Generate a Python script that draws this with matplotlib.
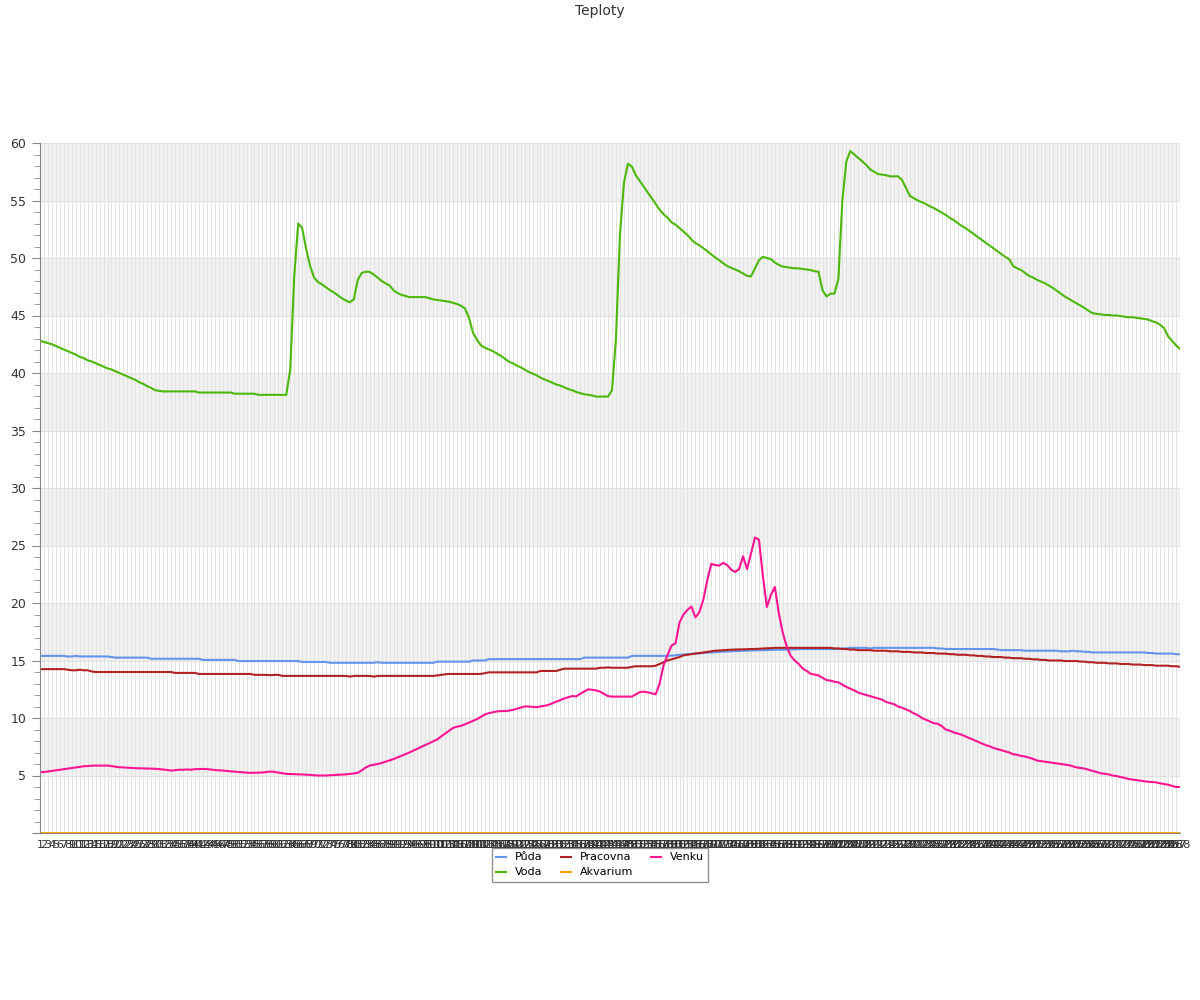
import numpy as np
import matplotlib.pyplot as plt
from matplotlib.ticker import MultipleLocator

# measurements, one sample every 5 min (288 per day)
labels = [str(i) for i in range(1, 289)]

puda = [
    15.4, 15.4, 15.4, 15.4, 15.4, 15.4, 15.4, 15.35, 15.35, 15.4, 15.35, 15.35,
    15.35, 15.35, 15.35, 15.35, 15.35, 15.35, 15.3, 15.25, 15.25, 15.25, 15.25, 15.25,
    15.25, 15.25, 15.25, 15.25, 15.15, 15.15, 15.15, 15.15, 15.15, 15.15, 15.15, 15.15,
    15.15, 15.15, 15.15, 15.15, 15.15, 15.05, 15.05, 15.05, 15.05, 15.05, 15.05, 15.05,
    15.05, 15.05, 14.95, 14.95, 14.95, 14.95, 14.95, 14.95, 14.95, 14.95, 14.95, 14.95,
    14.95, 14.95, 14.95, 14.95, 14.95, 14.95, 14.87, 14.87, 14.87, 14.87, 14.87, 14.87,
    14.87, 14.8, 14.8, 14.8, 14.8, 14.8, 14.8, 14.8, 14.8, 14.8, 14.8, 14.8,
    14.8, 14.85, 14.8, 14.8, 14.8, 14.8, 14.8, 14.8, 14.8, 14.8, 14.8, 14.8,
    14.8, 14.8, 14.8, 14.8, 14.9, 14.9, 14.9, 14.9, 14.9, 14.9, 14.9, 14.9,
    14.9, 15.0, 15.0, 15.0, 15.0, 15.12, 15.12, 15.12, 15.12, 15.12, 15.12, 15.12,
    15.12, 15.12, 15.12, 15.12, 15.12, 15.12, 15.12, 15.12, 15.12, 15.12, 15.12, 15.12,
    15.12, 15.12, 15.12, 15.12, 15.12, 15.25, 15.25, 15.25, 15.25, 15.25, 15.25, 15.25,
    15.25, 15.25, 15.25, 15.25, 15.25, 15.4, 15.4, 15.4, 15.4, 15.4, 15.4, 15.4,
    15.4, 15.4, 15.4, 15.42, 15.45, 15.5, 15.52, 15.55, 15.58, 15.6, 15.62, 15.65,
    15.68, 15.7, 15.72, 15.75, 15.77, 15.78, 15.8, 15.82, 15.83, 15.85, 15.86, 15.87,
    15.88, 15.89, 15.9, 15.91, 15.92, 15.93, 15.94, 15.94, 15.95, 15.96, 15.97, 15.98,
    16.0, 16.0, 16.0, 16.0, 16.0, 16.0, 16.0, 16.0, 16.0, 16.0, 16.05, 16.05,
    16.1, 16.1, 16.1, 16.1, 16.1, 16.05, 16.1, 16.1, 16.1, 16.1, 16.1, 16.1,
    16.1, 16.1, 16.1, 16.1, 16.1, 16.1, 16.1, 16.1, 16.1, 16.1, 16.05, 16.05,
    16.0, 16.0, 16.0, 16.0, 16.0, 16.0, 16.0, 16.0, 16.0, 16.0, 16.0, 16.0,
    16.0, 15.95, 15.9, 15.9, 15.9, 15.9, 15.9, 15.9, 15.85, 15.85, 15.85, 15.85,
    15.85, 15.85, 15.85, 15.85, 15.85, 15.8, 15.8, 15.8, 15.85, 15.8, 15.8, 15.75,
    15.75, 15.7, 15.7, 15.7, 15.7, 15.7, 15.7, 15.7, 15.7, 15.7, 15.7, 15.7,
    15.7, 15.7, 15.7, 15.65, 15.65, 15.6, 15.6, 15.6, 15.6, 15.6, 15.55, 15.55,
]

voda = [
    42.8, 42.7, 42.6, 42.5, 42.35, 42.2, 42.05, 41.9, 41.75, 41.6, 41.4, 41.3,
    41.1, 41.0, 40.85, 40.7, 40.55, 40.4, 40.3, 40.15, 40.0, 39.85, 39.7, 39.55,
    39.4, 39.2, 39.05, 38.85, 38.7, 38.5, 38.45, 38.4, 38.4, 38.4, 38.4, 38.4,
    38.4, 38.4, 38.4, 38.4, 38.3, 38.3, 38.3, 38.3, 38.3, 38.3, 38.3, 38.3,
    38.3, 38.2, 38.2, 38.2, 38.2, 38.2, 38.2, 38.1, 38.1, 38.1, 38.1, 38.1,
    38.1, 38.1, 38.1, 40.3, 48.4, 53.0, 52.6, 50.8, 49.3, 48.3, 47.9, 47.7,
    47.45, 47.2, 47.0, 46.75, 46.5, 46.3, 46.15, 46.4, 48.1, 48.7, 48.8, 48.8,
    48.55, 48.3, 48.0, 47.8, 47.6, 47.2, 46.95, 46.8, 46.7, 46.6, 46.6, 46.6,
    46.6, 46.6, 46.5, 46.4, 46.35, 46.3, 46.25, 46.2, 46.1, 46.0, 45.85, 45.6,
    44.8, 43.5, 42.9, 42.4, 42.2, 42.05, 41.9, 41.7, 41.5, 41.25, 41.0, 40.85,
    40.65, 40.5, 40.3, 40.1, 39.95, 39.8, 39.6, 39.45, 39.3, 39.15, 39.0, 38.9,
    38.75, 38.6, 38.5, 38.35, 38.25, 38.15, 38.1, 38.05, 37.95, 37.95, 37.95, 37.95,
    38.5, 43.0, 52.0, 56.5, 58.2, 57.95, 57.2, 56.7, 56.2, 55.7, 55.2, 54.7,
    54.2, 53.8, 53.5, 53.1, 52.9, 52.6, 52.3, 52.0, 51.6, 51.3, 51.1, 50.85,
    50.6, 50.3, 50.05, 49.8, 49.55, 49.3, 49.15, 49.0, 48.85, 48.65, 48.45, 48.4,
    49.1, 49.8, 50.1, 50.0, 49.9, 49.6, 49.4, 49.25, 49.2, 49.15, 49.1, 49.1,
    49.05, 49.0, 48.95, 48.85, 48.8, 47.2, 46.65, 46.9, 46.9, 48.2, 55.0, 58.4,
    59.3, 59.0, 58.7, 58.4, 58.1, 57.7, 57.5, 57.3, 57.25, 57.2, 57.1, 57.1,
    57.1, 56.8, 56.1, 55.4, 55.2, 55.0, 54.85, 54.7, 54.5, 54.35, 54.15, 53.95,
    53.75, 53.5, 53.3, 53.05, 52.8, 52.6, 52.35, 52.1, 51.85, 51.6, 51.35, 51.1,
    50.85, 50.6, 50.35, 50.1, 49.9, 49.3, 49.1, 48.95, 48.7, 48.45, 48.3, 48.1,
    47.95, 47.8, 47.6, 47.4, 47.15, 46.9, 46.65, 46.45, 46.25, 46.05, 45.85, 45.65,
    45.4, 45.2, 45.15, 45.1, 45.05, 45.05, 45.0, 45.0, 44.95, 44.9, 44.85, 44.85,
    44.8, 44.75, 44.7, 44.65, 44.5, 44.4, 44.2, 43.9, 43.2, 42.8, 42.4, 42.1,
]

pracovna = [
    14.25, 14.25, 14.25, 14.25, 14.25, 14.25, 14.25, 14.2, 14.15, 14.15, 14.2, 14.15,
    14.15, 14.05, 14.0, 14.0, 14.0, 14.0, 14.0, 14.0, 14.0, 14.0, 14.0, 14.0,
    14.0, 14.0, 14.0, 14.0, 14.0, 14.0, 14.0, 14.0, 14.0, 14.0, 13.92, 13.92,
    13.92, 13.92, 13.92, 13.92, 13.83, 13.83, 13.83, 13.83, 13.83, 13.83, 13.83, 13.83,
    13.83, 13.83, 13.83, 13.83, 13.83, 13.83, 13.75, 13.75, 13.75, 13.75, 13.72, 13.75,
    13.75, 13.66, 13.66, 13.66, 13.66, 13.66, 13.66, 13.66, 13.66, 13.66, 13.66, 13.66,
    13.66, 13.66, 13.66, 13.66, 13.66, 13.66, 13.6, 13.66, 13.66, 13.66, 13.66, 13.66,
    13.6, 13.66, 13.66, 13.66, 13.66, 13.66, 13.66, 13.66, 13.66, 13.66, 13.66, 13.66,
    13.66, 13.66, 13.66, 13.66, 13.7, 13.75, 13.8, 13.83, 13.83, 13.83, 13.83, 13.83,
    13.83, 13.83, 13.83, 13.83, 13.9, 13.97, 13.97, 13.97, 13.97, 13.97, 13.97, 13.97,
    13.97, 13.97, 13.97, 13.97, 13.97, 13.97, 14.09, 14.09, 14.09, 14.09, 14.09, 14.2,
    14.29, 14.29, 14.29, 14.29, 14.29, 14.29, 14.29, 14.29, 14.29, 14.37, 14.37, 14.4,
    14.37, 14.37, 14.37, 14.37, 14.37, 14.45, 14.5, 14.5, 14.5, 14.5, 14.5, 14.55,
    14.7, 14.85, 15.0, 15.1, 15.2, 15.3, 15.45, 15.5, 15.55, 15.6, 15.65, 15.7,
    15.75, 15.8, 15.85, 15.87, 15.9, 15.92, 15.94, 15.95, 15.96, 15.97, 15.98, 16.0,
    16.0, 16.02, 16.04, 16.06, 16.08, 16.1, 16.1, 16.1, 16.1, 16.1, 16.1, 16.1,
    16.1, 16.1, 16.1, 16.1, 16.1, 16.1, 16.1, 16.1, 16.05, 16.05, 16.0, 16.0,
    15.95, 15.95, 15.9, 15.9, 15.9, 15.9, 15.85, 15.85, 15.85, 15.85, 15.8, 15.8,
    15.8, 15.75, 15.75, 15.75, 15.7, 15.7, 15.7, 15.65, 15.65, 15.65, 15.6, 15.6,
    15.6, 15.55, 15.55, 15.5, 15.5, 15.5, 15.45, 15.45, 15.4, 15.4, 15.35, 15.35,
    15.3, 15.3, 15.3, 15.25, 15.25, 15.2, 15.2, 15.2, 15.15, 15.15, 15.1, 15.1,
    15.05, 15.05, 15.0, 15.0, 15.0, 15.0, 14.95, 14.95, 14.95, 14.95, 14.9, 14.9,
    14.85, 14.85, 14.8, 14.8, 14.8, 14.75, 14.75, 14.75, 14.7, 14.7, 14.7, 14.65,
    14.65, 14.65, 14.6, 14.6, 14.6, 14.55, 14.55, 14.55, 14.55, 14.5, 14.5, 14.45,
]

akvarium = [0.0] * 288

venku = [
    5.3, 5.3, 5.35, 5.4, 5.45, 5.5, 5.55, 5.6, 5.65, 5.7, 5.75, 5.8,
    5.82, 5.85, 5.86, 5.86, 5.86, 5.86, 5.82, 5.76, 5.72, 5.7, 5.68, 5.66,
    5.64, 5.62, 5.62, 5.6, 5.6, 5.58, 5.56, 5.52, 5.48, 5.43, 5.46, 5.5,
    5.5, 5.52, 5.5, 5.55, 5.56, 5.57, 5.56, 5.52, 5.48, 5.45, 5.43, 5.4,
    5.36, 5.34, 5.3, 5.28, 5.25, 5.23, 5.24, 5.25, 5.26, 5.3, 5.34, 5.32,
    5.25, 5.2, 5.14, 5.13, 5.12, 5.1, 5.09, 5.07, 5.05, 5.02, 5.0, 5.0,
    5.0, 5.02, 5.04, 5.06, 5.08, 5.1, 5.14, 5.18, 5.23, 5.45, 5.7, 5.86,
    5.93, 6.0, 6.09, 6.2, 6.32, 6.43, 6.57, 6.72, 6.86, 7.0, 7.16, 7.31,
    7.47, 7.63, 7.8, 7.97, 8.14, 8.4, 8.65, 8.9, 9.14, 9.25, 9.32, 9.45,
    9.6, 9.75, 9.9, 10.1, 10.3, 10.42, 10.5, 10.57, 10.6, 10.6, 10.63, 10.7,
    10.8, 10.9, 11.0, 11.0, 10.97, 10.94, 11.0, 11.06, 11.14, 11.28, 11.43, 11.57,
    11.7, 11.8, 11.91, 11.88, 12.1, 12.3, 12.5, 12.45, 12.4, 12.29, 12.1, 11.9,
    11.86, 11.86, 11.86, 11.86, 11.86, 11.86, 12.05, 12.25, 12.29, 12.23, 12.15, 12.06,
    13.0, 14.6, 15.5, 16.3, 16.5, 18.3, 19.0, 19.4, 19.7, 18.75, 19.2, 20.3,
    22.0, 23.4, 23.3, 23.25, 23.5, 23.3, 22.9, 22.7, 22.95, 24.06, 22.95, 24.3,
    25.7, 25.5, 22.3, 19.65, 20.7, 21.4, 19.1, 17.4, 16.2, 15.4, 15.0, 14.7,
    14.3, 14.1, 13.85, 13.77, 13.7, 13.5, 13.3, 13.25, 13.15, 13.1, 12.9, 12.7,
    12.55, 12.4, 12.2, 12.1, 12.0, 11.9, 11.8, 11.7, 11.6, 11.4, 11.3, 11.2,
    11.0, 10.9, 10.75, 10.6, 10.4, 10.25, 10.0, 9.85, 9.7, 9.55, 9.5, 9.3,
    9.0, 8.9, 8.75, 8.65, 8.55, 8.4, 8.25, 8.1, 7.95, 7.8, 7.65, 7.55,
    7.4, 7.3, 7.2, 7.1, 7.0, 6.85, 6.8, 6.7, 6.65, 6.55, 6.45, 6.3,
    6.25, 6.2, 6.15, 6.1, 6.05, 6.0, 5.95, 5.9, 5.8, 5.7, 5.65, 5.6,
    5.5, 5.4, 5.3, 5.2, 5.15, 5.1, 5.0, 4.95, 4.87, 4.8, 4.7, 4.65,
    4.6, 4.55, 4.5, 4.45, 4.43, 4.4, 4.32, 4.26, 4.2, 4.1, 4.0, 4.0,
]

series = [
    ("Půda", puda, "#6495ed"),
    ("Voda", voda, "#4cb80a"),
    ("Pracovna", pracovna, "#b22222"),
    ("Akvarium", akvarium, "#ffa500"),
    ("Venku", venku, "#ff1493"),
]

fig = plt.figure(figsize=(12, 10), dpi=100)
ax = fig.add_axes([40 / 1200, 167 / 1000, 1140 / 1200, 690 / 1000])

x = np.arange(len(labels))

# alternating bands every 5 degrees
for lo in range(5, 60, 10):
    ax.axhspan(lo, lo + 5, color="#f2f2f2", zorder=0, lw=0)
for yv in range(5, 61, 5):
    ax.axhline(yv, color="#e0e0e0", lw=0.8, zorder=0.5)
for xv in x:
    ax.axvline(xv, color="#e3e3e3", lw=0.75, zorder=0.5)

for name, vals, col in series:
    ax.plot(x, vals, color=col, lw=1.5, label=name, zorder=2)

ax.set_xlim(0, len(labels) - 1)
ax.set_ylim(0, 60)
ax.set_xticks(x)
ax.set_xticklabels(labels, fontsize=8, color="#333333")
ax.tick_params(axis="x", length=0, pad=5)
ax.yaxis.set_major_locator(MultipleLocator(5))
ax.yaxis.set_minor_locator(MultipleLocator(1))
ax.set_yticks(range(0, 61, 5))
ax.set_yticklabels([""] + [str(v) for v in range(5, 61, 5)], fontsize=9, color="#333333")
ax.tick_params(axis="y", which="major", length=6, color="#888888", pad=4)
ax.tick_params(axis="y", which="minor", length=4, color="#888888")

for s in ["top", "right"]:
    ax.spines[s].set_visible(False)
ax.spines["left"].set_color("#888888")
ax.spines["bottom"].set_color("#888888")

fig.suptitle("Teploty", y=0.996, fontsize=10, color="#333333")

leg = fig.legend(loc="upper center", bbox_to_anchor=(0.5, 0.152), ncol=3,
                 fontsize=8, handlelength=0.9, columnspacing=1.6,
                 fancybox=False, borderpad=0.4, labelspacing=0.45,
                 borderaxespad=0)
leg.get_frame().set_edgecolor("#777777")
leg.get_frame().set_linewidth(1)

fig.savefig("out.png", dpi=100)
